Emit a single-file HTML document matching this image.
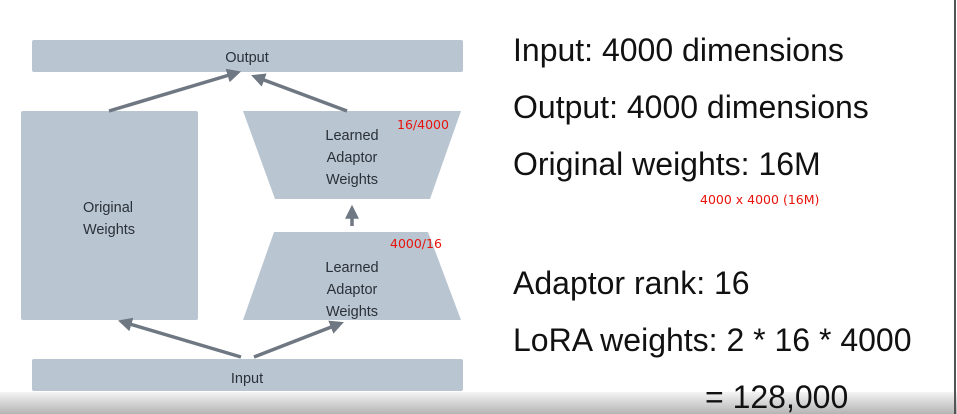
<!DOCTYPE html>
<html><head><style>
html,body{margin:0;padding:0;width:957px;height:414px;overflow:hidden;background:#fff;position:relative;font-family:"Liberation Sans",sans-serif}
.t{position:absolute;font-size:32px;color:#111;white-space:nowrap;line-height:1}
.bottom{position:absolute;left:0;top:392px;width:957px;height:22px;background:linear-gradient(#f4f4f4,#b4b4b4)}
</style></head><body>
<div class="bottom"></div>
<div style="position:absolute;left:954px;top:0;width:2px;height:414px;background:#555"></div>
<svg width="957" height="414" style="position:absolute;left:0;top:0" font-family="Liberation Sans, sans-serif">
<defs><marker id="a" markerWidth="4" markerHeight="4" refX="2.5" refY="2" orient="auto"><path d="M0,0 L4,2 L0,4 Z" fill="#6f7882"/></marker></defs>
<rect x="32" y="40" width="431" height="32" rx="2" fill="#b9c6d2"/>
<rect x="32" y="359" width="431" height="32" rx="2" fill="#b9c6d2"/>
<rect x="21" y="111" width="177" height="209" rx="2" fill="#b9c6d2"/>
<polygon points="243,111 461,111 430,199 275,199" fill="#b9c6d2"/>
<polygon points="274,232 428,232 461,320 243,320" fill="#b9c6d2"/>
<g stroke="#6f7882" stroke-width="3.5" fill="none" marker-end="url(#a)">
<line x1="109" y1="111" x2="236" y2="73"/>
<line x1="347" y1="111" x2="256" y2="77"/>
<line x1="241" y1="357" x2="123" y2="322"/>
<line x1="254" y1="357" x2="339" y2="324"/>
<line x1="352" y1="226" x2="352" y2="210"/>
</g>
<g fill="#2a3038" font-size="14.5" text-anchor="middle">
<text x="247" y="62">Output</text>
<text x="247" y="383">Input</text>
<text x="108" y="212">Original</text>
<text x="109" y="234">Weights</text>
<text x="352" y="140">Learned</text>
<text x="352" y="162">Adaptor</text>
<text x="352" y="184">Weights</text>
<text x="352" y="272">Learned</text>
<text x="352" y="294">Adaptor</text>
<text x="352" y="316">Weights</text>
</g>
<g fill="#e8140c" font-size="13" font-family="DejaVu Sans, sans-serif">
<text x="397" y="129" font-size="12.5">16/4000</text>
<text x="390" y="248" font-size="12.5">4000/16</text>
<text x="700" y="204" font-size="12.5">4000 x 4000 (16M)</text>
</g>
</svg>
<div class="t" style="left:513px;top:34px">Input: 4000 dimensions</div>
<div class="t" style="left:513px;top:91px">Output: 4000 dimensions</div>
<div class="t" style="left:513px;top:148px">Original weights: 16M</div>
<div class="t" style="left:513px;top:267px">Adaptor rank: 16</div>
<div class="t" style="left:513px;top:324px">LoRA weights: 2 * 16 * 4000</div>
<div class="t" style="left:705px;top:381px">= 128,000</div>
</body></html>
